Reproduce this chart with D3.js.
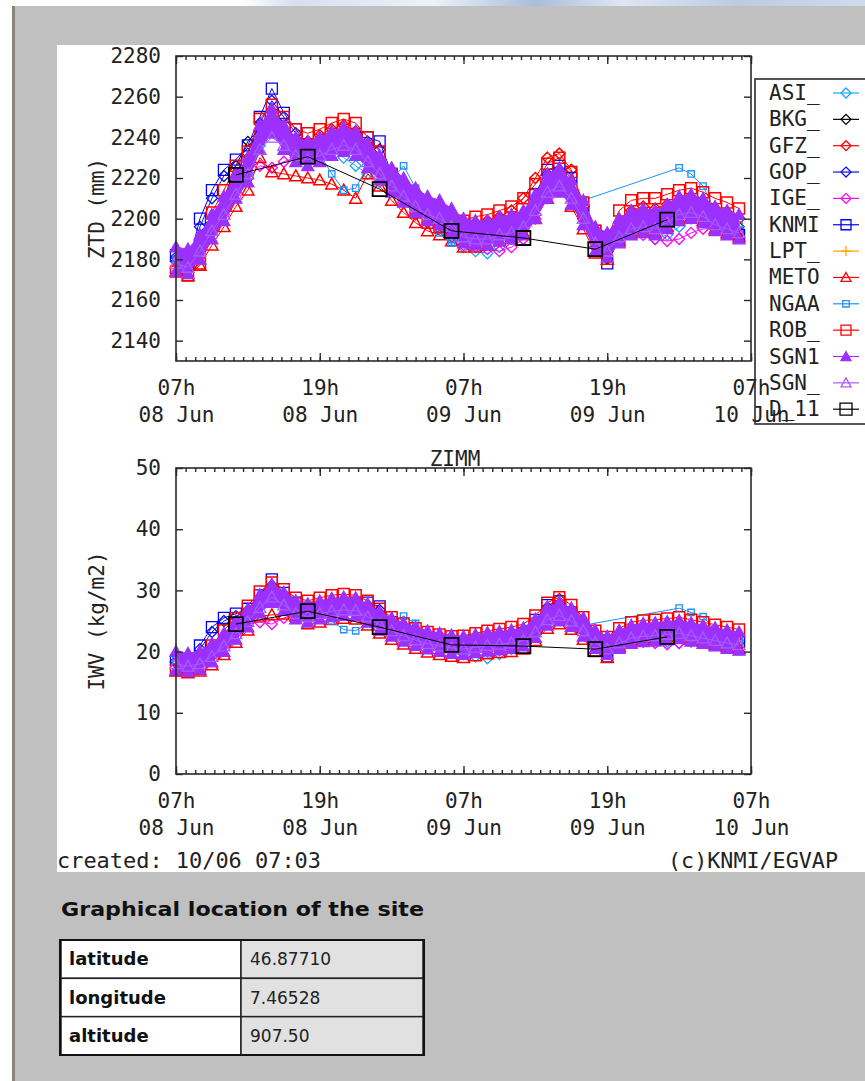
<!DOCTYPE html>
<html><head><meta charset="utf-8">
<script src="https://cdn.jsdelivr.net/npm/d3@7"></script>
<style>
html,body{margin:0;padding:0;background:#fff;}
svg{display:block;}
</style></head><body>
<svg id="c" width="865" height="1081"></svg>
<script>
// ---------------- DATA ----------------
const hours = [0,1,2,3,4,5,6,7,8,9,10,11,12,13,14,15,16,17,18,19,20,21,22,23,
               24,25,26,27,28,29,30,31,32,33,34,35,36,37,38,39,40,41,42,43,44,45,46,47];
const seriesNames = ["ASI_","BKG_","GFZ_","GOP_","IGE_","KNMI","LPT_","METO","NGAA","ROB_","SGN1","SGN_","D_11"];
const xTickHours = [0,12,24,36,48];
const xTickTime = ["07h","19h","07h","19h","07h"];
const xTickDate = ["08 Jun","08 Jun","09 Jun","09 Jun","10 Jun"];
const ztdTicks = [2140,2160,2180,2200,2220,2240,2260,2280];
const iwvTicks = [0,10,20,30,40,50];
const stationName = "ZIMM";
const ztdLabel = "ZTD (mm)";
const iwvLabel = "IWV (kg/m2)";
const createdText = "created: 10/06 07:03";
const creditText = "(c)KNMI/EGVAP";
const siteTitle = "Graphical location of the site";
const siteKeys = ["latitude","longitude","altitude"];
const siteValues = ["46.87710","7.46528","907.50"];

// ZTD (mm), hourly from 07h 08 Jun
const ztdASI = [2179,2178,2184,2194,2203,2214,2222,2236,2244,2238,2232,2230,
 2232,2234,2230,2226,2222,2218,2214,2210,2207,2206,2198,2190,
 2186,2184,2183,2186,2190,2194,2202,2212,2216,2210,2200,2186,
 2185,2192,2196,2197,2190,2192,2196,2200,2200,2197,2195,2193];
const ztdBKG = [2180,2179,2187,2198,2210,2226,2238,2244,2246,2240,2234,2232,
 2234,2237,2239,2237,2231,2225,2219,2214,2209,2205,2203,2198,
 2193,2192,2192,2194,2196,2198,2206,2216,2219,2212,2200,2186,
 2180,2193,2198,2199,2198,2201,2205,2206,2204,2200,2198,2196];
const ztdGFZ = [2179,2177,2184,2195,2206,2218,2226,2243,2250,2244,2239,2238,
 2241,2244,2246,2243,2236,2228,2220,2214,2207,2202,2200,2197,
 2195,2197,2199,2201,2204,2210,2220,2230,2232,2224,2206,2192,
 2189,2198,2204,2206,2205,2207,2209,2210,2208,2205,2203,2200];
const ztdGOP = [2181,2178,2196,2210,2221,2226,2232,2247,2258,2250,2242,2236,
 2235,2238,2238,2241,2238,2234,2220,2213,2207,2203,2199,2196,
 2192,2191,2192,2194,2196,2200,2210,2222,2224,2218,2204,2192,
 2184,2192,2197,2198,2197,2200,2204,2205,2203,2199,2197,2194];
const ztdIGE = [2179,2177,2183,2193,2202,2213,2220,2226,2225,2228,2230,2231,
 2233,2235,2236,2234,2228,2222,2214,2208,2202,2198,2195,2191,
 2187,2186,2185,2184,2186,2190,2200,2210,2214,2210,2200,2188,
 2186,2190,2193,2192,2190,2189,2190,2193,2195,2195,2194,2193];
const ztdKNMI = [2182,2177,2200,2214,2224,2229,2236,2250,2264,2252,2244,2236,
 2234,2238,2237,2240,2240,2238,2222,2214,2208,2204,2200,2196,
 2192,2190,2191,2193,2195,2200,2212,2224,2226,2220,2204,2194,
 2178,2190,2196,2197,2196,2199,2203,2204,2202,2198,2196,2192];
const ztdLPT = [2180,2179,2186,2196,2205,2216,2224,2240,2247,2240,2234,2232,
 2234,2237,2239,2237,2231,2225,2219,2214,2209,2205,2203,2199,
 2194,2193,2193,2195,2196,2198,2206,2216,2219,2213,2203,2190,
 2187,2194,2198,2199,2198,2201,2205,2206,2204,2200,2198,2196];
const ztdMETO = [2174,2172,2177,2187,2196,2206,2214,2230,2223,2222,2221,2220,
 2219,2217,2214,2210,2222,2216,2209,2203,2198,2194,2192,2189,
 2186,2186,2187,2189,2191,2193,2200,2210,2214,2206,2195,2183,
 2180,2189,2193,2194,2193,2196,2200,2201,2199,2195,2193,2191];
const ztdNGAA = [2180,2178,2186,2196,2205,2215,2223,2238,2246,2240,2234,2232,
 2232,2222,2214,2215,2226,2224,2219,2226,2215,2205,2193,2188,
 2190,2190,2192,2194,2196,2198,2205,2214,2217,2212,2209,null,
 null,null,null,null,null,null,2225,2222,2216,2204,2200,2197];
const ztdROB = [2174,2172,2178,2203,2214,2226,2233,2249,2256,2250,2244,2242,
 2244,2247,2249,2247,2240,2233,2222,2212,2203,2198,2196,2194,
 2199,2201,2202,2204,2206,2210,2217,2227,2230,2223,2208,2194,
 2191,2204,2209,2210,2210,2212,2214,2215,2213,2210,2208,2205];
const ztdSGN1hi = [2186,2185,2192,2202,2211,2222,2230,2246,2254,2246,2240,2238,
 2240,2243,2245,2243,2237,2231,2225,2220,2215,2211,2209,2205,
 2200,2199,2199,2201,2202,2204,2212,2222,2225,2219,2209,2196,
 2193,2200,2204,2205,2204,2207,2211,2212,2210,2206,2204,2202];
const ztdSGN1lo = [2174,2173,2180,2190,2199,2210,2218,2234,2242,2234,2228,2226,
 2228,2231,2233,2231,2225,2219,2213,2208,2203,2199,2197,2193,
 2188,2187,2187,2189,2190,2192,2200,2210,2213,2207,2197,2184,
 2181,2188,2192,2193,2192,2195,2199,2200,2198,2194,2192,2190];
const ztdSGN_ = [2178,2176,2184,2194,2202,2212,2222,2234,2240,2236,2231,2229,
 2231,2234,2236,2234,2228,2222,2216,2211,2206,2202,2200,2196,
 2191,2190,2190,2192,2193,2196,2204,2213,2216,2210,2200,2188,
 2184,2191,2195,2196,2195,2198,2202,2203,2201,2197,2195,2193];
const d11Hours = [5,11,17,23,29,35,41];
const ztdD11 = [2221.5,2230.5,2214.5,2194,2190.5,2185,2199.5];

// IWV (kg/m2)
const iwvASI = [18.4,18.0,18.4,19.6,21.2,23.2,25.2,27.4,29.0,27.8,26.4,26.0,
 26.4,26.8,26.8,26.4,25.8,24.6,23.6,22.8,22.0,21.4,20.8,20.2,
 19.6,19.2,18.9,19.6,20.4,21.4,23.0,25.0,25.8,25.0,23.6,21.6,
 20.6,21.6,22.4,22.6,22.0,21.6,21.4,21.6,21.8,21.8,21.6,21.4];
const iwvBKG = [18.5,18.2,18.8,20.2,22.2,24.6,26.8,28.2,29.4,28.2,26.8,26.3,
 26.8,27.2,27.4,27.3,26.3,25.0,24.0,23.2,22.5,21.9,21.5,21.0,
 20.8,21.0,21.3,21.6,21.8,22.2,23.6,25.6,26.3,25.2,23.2,21.0,
 19.6,21.6,22.6,23.0,23.1,23.3,23.5,23.1,22.7,22.3,21.9,21.6];
const iwvGFZ = [18.2,17.8,18.4,19.6,21.6,23.8,25.8,28.4,30.0,28.8,27.6,27.3,
 27.8,28.2,28.5,28.2,27.0,25.6,24.4,23.4,22.6,21.9,21.4,21.0,
 20.9,21.3,21.8,22.2,22.6,23.2,24.8,27.2,28.6,26.8,24.4,22.0,
 20.8,22.4,23.6,24.0,24.0,24.2,24.4,24.2,23.8,23.4,23.0,22.6];
const iwvGOP = [18.4,18.0,20.4,23.2,25.0,25.8,26.6,28.8,30.8,29.2,27.8,27.0,
 27.0,27.5,27.6,27.9,27.6,26.8,24.6,23.4,22.4,21.7,21.2,20.8,
 20.6,20.8,21.2,21.6,22.0,22.8,24.8,27.2,27.8,26.2,23.8,21.6,
 20.2,21.2,22.2,22.5,22.5,22.7,22.9,22.7,22.3,22.0,21.8,21.6];
const iwvIGE = [18.2,17.8,18.2,19.4,21.0,23.0,24.6,24.8,24.5,25.5,26.0,26.0,
 26.4,26.8,27.0,26.8,25.6,24.4,23.2,22.4,21.6,21.0,20.6,20.2,
 20.0,20.0,20.0,20.2,20.6,21.2,22.8,24.8,25.8,25.0,23.4,21.2,
 20.2,21.0,21.6,21.6,21.4,21.2,21.4,21.8,22.0,22.0,21.8,21.6];
const iwvKNMI = [18.6,17.8,21.0,24.0,25.5,26.2,27.0,29.2,31.8,29.6,28.0,27.2,
 27.0,27.6,27.6,28.0,28.0,27.4,24.8,23.6,22.6,21.8,21.2,20.8,
 20.6,20.8,21.2,21.6,22.0,23.0,25.2,27.6,28.2,26.4,24.0,21.6,
 19.2,20.8,22.2,22.6,22.6,22.8,23.0,22.8,22.4,22.0,21.8,21.6];
const iwvLPT = [18.5,18.2,18.6,19.8,21.5,23.5,25.5,27.8,29.4,28.2,26.8,26.3,
 26.8,27.2,27.4,27.3,26.3,25.0,24.0,23.2,22.5,21.9,21.5,21.2,
 21.0,21.3,21.6,21.8,22.0,22.4,23.8,25.8,26.5,25.6,24.0,22.0,
 21.0,22.0,22.8,23.1,23.2,23.4,23.6,23.2,22.8,22.4,22.0,21.7];
const iwvMETO = [16.8,16.5,16.8,17.8,19.5,21.5,23.5,25.8,26.0,26.1,25.8,24.5,
 24.8,25.2,25.4,25.3,24.3,23.0,22.0,21.2,20.5,19.9,19.5,19.2,
 19.0,19.3,19.6,19.8,20.0,20.4,21.8,23.8,24.5,23.6,22.0,20.0,
 19.0,20.8,21.6,21.9,22.0,22.2,22.4,22.0,21.6,21.2,20.8,20.5];
const iwvNGAA = [18.5,18.2,18.6,19.8,21.5,23.5,25.5,27.8,29.2,28.0,26.8,26.3,
 26.6,25.0,23.6,23.4,24.6,25.2,24.4,25.8,24.6,22.4,21.4,20.4,
 20.4,21.0,21.4,21.8,22.0,22.4,23.6,25.4,26.2,25.4,24.3,null,
 null,null,null,null,null,null,27.1,26.4,25.7,23.6,22.6,22.0];
const iwvROB = [17.0,16.8,17.2,21.0,23.5,25.5,27.5,29.8,31.3,30.2,28.8,28.3,
 28.8,29.2,29.4,29.2,28.3,27.0,25.6,24.6,23.8,23.2,22.8,22.5,
 22.6,23.0,23.4,23.7,24.0,24.5,25.9,28.0,28.9,27.6,25.6,23.4,
 22.4,23.8,24.8,25.1,25.2,25.4,25.6,25.2,24.8,24.4,24.0,23.6];
const iwvSGN1hi = [20.0,19.7,20.1,21.3,23.0,25.0,27.0,29.3,31.0,29.7,28.3,27.8,
 28.3,28.7,28.9,28.8,27.8,26.5,25.5,24.7,24.0,23.4,23.0,22.7,
 22.5,22.8,23.1,23.3,23.5,23.9,25.3,27.3,28.0,27.1,25.5,23.5,
 22.5,23.5,24.3,24.6,24.7,24.9,25.1,24.7,24.3,23.9,23.5,23.2];
const iwvSGN1lo = [17.0,16.7,17.1,18.3,20.0,22.0,24.0,26.3,28.0,26.7,25.3,24.8,
 25.3,25.7,25.9,25.8,24.8,23.5,22.5,21.7,21.0,20.4,20.0,19.7,
 19.5,19.8,20.1,20.3,20.5,20.9,22.3,24.3,25.0,24.1,22.5,20.5,
 19.5,20.5,21.3,21.6,21.7,21.9,22.1,21.7,21.3,20.9,20.5,20.2];
const iwvSGN_ = [18.0,17.6,18.0,19.2,20.9,22.9,24.9,27.2,28.9,27.6,26.2,25.7,
 26.2,26.6,26.8,26.7,25.7,24.4,23.4,22.6,21.9,21.3,20.9,20.6,
 20.4,20.7,21.0,21.2,21.4,21.8,23.2,25.2,25.9,25.0,23.4,21.4,
 20.4,21.4,22.2,22.5,22.6,22.8,23.0,22.6,22.2,21.8,21.4,21.1];
const iwvD11 = [24.5,26.6,24.0,21.1,20.9,20.4,22.4];

// ---------------- STYLES ----------------
const styles = {
  "ASI_": {color:"#18a8ff", sym:"diamond", r:5.5},
  "BKG_": {color:"#000000", sym:"diamond", r:5},
  "GFZ_": {color:"#ff0000", sym:"diamond", r:5.5, width:1.5},
  "GOP_": {color:"#1010e8", sym:"diamond", r:5.5},
  "IGE_": {color:"#ff00ff", sym:"diamond", r:5.5},
  "KNMI": {color:"#0000ff", sym:"square", r:5.5},
  "LPT_": {color:"#ffa500", sym:"plus", r:5},
  "METO": {color:"#ff0000", sym:"tri", r:6, width:1.5},
  "NGAA": {color:"#1e90ff", sym:"square", r:3.2},
  "ROB_": {color:"#ff0000", sym:"square", r:5.5, width:1.5},
  "SGN1": {color:"#9b30ff", sym:"tri", r:6, fill:true},
  "SGN_": {color:"#a65cff", sym:"tri", r:6},
  "D_11": {color:"#000000", sym:"square", r:7, width:1.8}
};
const MONO = "'DejaVu Sans Mono', monospace";
const TXT = "#222";

function symPath(type, r){
  if (type==="diamond") return `M0,${-r}L${r},0L0,${r}L${-r},0Z`;
  if (type==="square") return `M${-r},${-r}H${r}V${r}H${-r}Z`;
  if (type==="tri") return `M0,${-r}L${r},${r*0.8}L${-r},${r*0.8}Z`;
  if (type==="plus") return `M${-r},0H${r}M0,${-r}V${r}`;
  return "";
}

// ---------------- PAGE ----------------
const svg = d3.select("#c");
const defs = svg.append("defs");
const grad = defs.append("linearGradient").attr("id","topstrip");
[["0%","#ffffff"],["28%","#ffffff"],["34%","#d6dff0"],["50%","#eef2f9"],["62%","#a9bcdc"],["72%","#dfe6f2"],["85%","#bccbe4"],["100%","#d0daec"]]
  .forEach(s=>grad.append("stop").attr("offset",s[0]).attr("stop-color",s[1]));
svg.append("rect").attr("width",865).attr("height",1081).attr("fill","#ffffff");
svg.append("rect").attr("x",0).attr("y",0).attr("width",865).attr("height",6).attr("fill","url(#topstrip)");
svg.append("rect").attr("x",15).attr("y",6).attr("width",850).attr("height",1075).attr("fill","#c0c0c0");
svg.append("rect").attr("x",12).attr("y",6).attr("width",3).attr("height",1075).attr("fill","#8a8578");
svg.append("rect").attr("x",57).attr("y",45).attr("width",808).attr("height",827).attr("fill","#ffffff");

const X0 = 176, X1 = 751;
const x = d3.scaleLinear().domain([0,48]).range([X0,X1]);
const yZ = d3.scaleLinear().domain([2130,2280]).range([361,56]);
const yI = d3.scaleLinear().domain([0,50]).range([774,468]);

const ztdSeries = {"ASI_":ztdASI,"BKG_":ztdBKG,"GFZ_":ztdGFZ,"GOP_":ztdGOP,"IGE_":ztdIGE,"KNMI":ztdKNMI,
  "LPT_":ztdLPT,"METO":ztdMETO,"NGAA":ztdNGAA,"ROB_":ztdROB,"SGN_":ztdSGN_};
const iwvSeries = {"ASI_":iwvASI,"BKG_":iwvBKG,"GFZ_":iwvGFZ,"GOP_":iwvGOP,"IGE_":iwvIGE,"KNMI":iwvKNMI,
  "LPT_":iwvLPT,"METO":iwvMETO,"NGAA":iwvNGAA,"ROB_":iwvROB,"SGN_":iwvSGN_};

function drawSeries(g, y, name, hrs, vals){
  const st = styles[name];
  const pts = hrs.map((h,i)=>({h, v:vals[i]})).filter(d=>d.v!=null);
  const line = d3.line().x(d=>x(d.h)).y(d=>y(d.v));
  g.append("path").attr("d", line(pts)).attr("fill","none").attr("stroke",st.color).attr("stroke-width",1);
  g.selectAll(null).data(pts).enter().append("path")
    .attr("d", symPath(st.sym, st.r))
    .attr("transform", d=>`translate(${x(d.h)},${y(d.v)})`)
    .attr("fill", st.fill ? st.color : "none")
    .attr("stroke", st.color).attr("stroke-width", st.width || 1.3);
}

function drawChart(y, yTicks, series, sgnHi, sgnLo, d11, Y0, Y1, yLabel){
  const g = svg.append("g");
  const order = ["ASI_","BKG_","GFZ_","GOP_","IGE_","KNMI","LPT_","METO","NGAA","ROB_"];
  order.forEach(n=>drawSeries(g, y, n, hours, series[n]));
  // SGN1 band of overlapping solutions
  const area = d3.area().x((d,i)=>x(hours[i])).y0((d,i)=>y(sgnLo[i])).y1((d,i)=>y(sgnHi[i]));
  g.append("path").attr("d", area(sgnHi)).attr("fill", styles["SGN1"].color);
  drawSeries(g, y, "SGN1", hours, sgnHi);
  drawSeries(g, y, "SGN1", hours, sgnLo);
  drawSeries(g, y, "SGN_", hours, series["SGN_"]);
  drawSeries(g, y, "D_11", d11Hours, d11);

  // axes
  const styleAxis = sel => { sel.select(".domain").remove(); sel.selectAll("line").attr("stroke","#2a2a2a").attr("stroke-width",1.4); };
  svg.append("g").attr("transform",`translate(${X0},0)`)
    .call(d3.axisLeft(y).tickValues(yTicks).tickSize(-7).tickSizeOuter(0).tickPadding(15).tickFormat(d3.format("d")))
    .call(styleAxis)
    .call(s=>s.selectAll("text").attr("font-family",MONO).attr("font-size",21).attr("fill",TXT));
  svg.append("g").attr("transform",`translate(${X1},0)`)
    .call(d3.axisRight(y).tickValues(yTicks).tickSize(-7).tickSizeOuter(0).tickFormat(""))
    .call(styleAxis);
  const minor = d3.range(0, 48.001, 0.8);
  svg.append("g").attr("transform",`translate(0,${Y1})`)
    .call(d3.axisBottom(x).tickValues(minor).tickSize(-4).tickSizeOuter(0).tickFormat("")).call(styleAxis);
  svg.append("g").attr("transform",`translate(0,${Y0})`)
    .call(d3.axisTop(x).tickValues(minor).tickSize(-4).tickSizeOuter(0).tickFormat("")).call(styleAxis);
  svg.append("g").attr("transform",`translate(0,${Y0})`)
    .call(d3.axisTop(x).tickValues(xTickHours).tickSize(-8).tickSizeOuter(0).tickFormat("")).call(styleAxis);
  const xb = svg.append("g").attr("transform",`translate(0,${Y1})`)
    .call(d3.axisBottom(x).tickValues(xTickHours).tickSize(-8).tickSizeOuter(0).tickPadding(19).tickFormat((d,i)=>xTickTime[i]))
    .call(styleAxis);
  xb.selectAll("text").attr("font-family",MONO).attr("font-size",21).attr("fill",TXT);
  xb.selectAll(".tick").append("text")
    .attr("y",46).attr("dy","0.71em").attr("text-anchor","middle")
    .attr("font-family",MONO).attr("font-size",21).attr("fill",TXT)
    .text((d,i)=>xTickDate[i]);

  // frame
  svg.append("rect").attr("x",X0).attr("y",Y0).attr("width",X1-X0).attr("height",Y1-Y0)
    .attr("fill","none").attr("stroke","#2a2a2a").attr("stroke-width",1.6);
  // y label
  svg.append("text").attr("transform",`translate(97,${(Y0+Y1)/2}) rotate(-90)`)
    .attr("text-anchor","middle").attr("dominant-baseline","central")
    .attr("font-family",MONO).attr("font-size",21).attr("fill",TXT).text(yLabel);
}

drawChart(yZ, ztdTicks, ztdSeries, ztdSGN1hi, ztdSGN1lo, ztdD11, 56, 361, ztdLabel);
drawChart(yI, iwvTicks, iwvSeries, iwvSGN1hi, iwvSGN1lo, iwvD11, 468, 774, iwvLabel);

// title of lower plot
svg.append("text").attr("x",455).attr("y",466).attr("text-anchor","middle")
  .attr("font-family",MONO).attr("font-size",21).attr("fill",TXT).text(stationName);

// legend
const lg = svg.append("g");
lg.append("rect").attr("x",755).attr("y",79).attr("width",130).attr("height",345)
  .attr("fill","none").attr("stroke","#2a2a2a").attr("stroke-width",1.6);
seriesNames.forEach((n,i)=>{
  const cy = 93 + i*26.35, st = styles[n];
  lg.append("text").attr("x",769).attr("y",cy).attr("dominant-baseline","central")
    .attr("font-family",MONO).attr("font-size",21).attr("fill",TXT).text(n);
  lg.append("line").attr("x1",833).attr("x2",859).attr("y1",cy).attr("y2",cy)
    .attr("stroke",st.color).attr("stroke-width",1.2);
  lg.append("path").attr("d",symPath(st.sym, n==="D_11"?6:Math.min(st.r,5))).attr("transform",`translate(846,${cy})`)
    .attr("fill", st.fill?st.color:"none").attr("stroke",st.color).attr("stroke-width", 1.3);
});

// footer texts
svg.append("text").attr("x",57).attr("y",868).attr("font-family",MONO).attr("font-size",21)
  .attr("fill",TXT).attr("textLength",264).attr("lengthAdjust","spacingAndGlyphs").text(createdText);
svg.append("text").attr("x",668).attr("y",868).attr("font-family",MONO).attr("font-size",21)
  .attr("fill",TXT).attr("textLength",170).attr("lengthAdjust","spacingAndGlyphs").text(creditText);

// site info
svg.append("text").attr("x",61).attr("y",916).attr("font-family","'DejaVu Sans', sans-serif").attr("font-size",20)
  .attr("font-weight","bold").attr("fill","#111").attr("textLength",363).attr("lengthAdjust","spacingAndGlyphs").text(siteTitle);
const tb = svg.append("g");
const rowY = d3.scaleBand().domain(siteKeys).range([940,1055]);
siteKeys.forEach((k,i)=>{
  const yy = rowY(k), hh = rowY.bandwidth();
  tb.append("rect").attr("x",61).attr("y",yy).attr("width",180).attr("height",hh)
    .attr("fill","#ffffff").attr("stroke","#222").attr("stroke-width",1.5);
  tb.append("rect").attr("x",241).attr("y",yy).attr("width",182).attr("height",hh)
    .attr("fill","#e1e1e1").attr("stroke","#222").attr("stroke-width",1.5);
  tb.append("text").attr("x",69).attr("y",yy+hh/2+6).attr("font-family","'DejaVu Sans', sans-serif")
    .attr("font-weight","bold").attr("font-size",18).attr("fill","#111").text(k);
  tb.append("text").attr("x",250).attr("y",yy+hh/2+6).attr("font-family","'DejaVu Sans', sans-serif")
    .attr("font-size",17).attr("fill","#222").text(siteValues[i]);
});
tb.append("rect").attr("x",60).attr("y",940).attr("width",364).attr("height",115)
  .attr("fill","none").attr("stroke","#111").attr("stroke-width",2);
</script></body></html>
